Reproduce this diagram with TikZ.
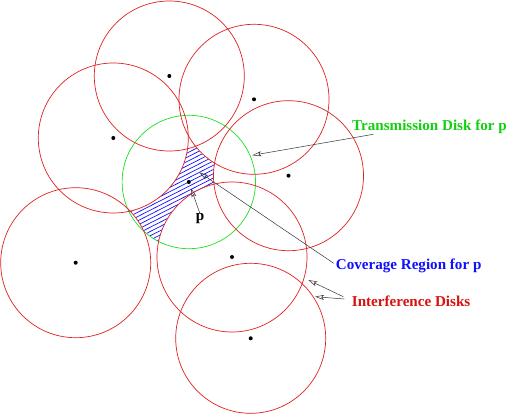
\documentclass[tikz,border=0pt]{standalone}
\usepackage{fontspec}
\setmainfont{Liberation Serif}
\usepackage{tikz}
\usetikzlibrary{arrows.meta,calc}
\definecolor{diskred}{HTML}{E02020}
\definecolor{diskgreen}{HTML}{20E020}
\definecolor{labelred}{HTML}{D81010}
\definecolor{labelgreen}{HTML}{10D010}
\definecolor{labelblue}{HTML}{1010FF}
\tikzset{
  intdisk/.style={draw=diskred,line width=0.7pt},
  txdisk/.style={draw=diskgreen,line width=0.7pt},
  hatchline/.style={draw=labelblue,line width=0.7pt},
  sitedot/.style={fill=black},
  disklabel/.style={font=\bfseries\fontsize{15.1}{17}\selectfont,inner sep=0pt,anchor=west},
  callout/.style={-{Stealth[open,length=9pt,width=5pt,inset=2pt]},draw=black!80,line width=0.5pt}
}

\begin{document}
\begin{tikzpicture}[x=1pt,y=-1pt]
\useasboundingbox (0,0) rectangle (517,414);
% disk centres
\coordinate (p) at (188.8,182);
\coordinate (c1) at (169.3,76);
\coordinate (c2) at (254,99.3);
\coordinate (c3) at (113.3,138);
\coordinate (c4) at (288.5,175.7);
\coordinate (c5) at (75.7,262.7);
\coordinate (c6) at (232,257);
\coordinate (c7) at (250.7,338.3);
% coverage region
\begin{scope}
\clip (p) circle (66.7);
\begin{scope}[shift={(p)},rotate=27]
\foreach \k in {-20,...,20}{\draw[hatchline] (-80,\k*3.8) -- (80,\k*3.8);}
\end{scope}
\foreach \c in {c1,c2,c3,c4,c5,c6,c7}{\fill[white] (\c) circle (75);}
\end{scope}
% disks
\draw[txdisk] (p) circle (66.7);
\foreach \c in {c1,c2,c3,c4,c5,c6,c7}{
  \draw[intdisk] (\c) circle (75);
  \fill[sitedot] (\c) circle (2);
}
\fill[sitedot] (p) circle (2);
% labels
\node[disklabel,anchor=center] (plabel) at (200,219) {p};
\node[disklabel,text=labelgreen] (txlabel) at (352,127) {Transmission Disk for p};
\node[disklabel,text=labelblue] (covlabel) at (335.7,266) {Coverage Region for p};
\node[disklabel,text=labelred] (intlabel) at (351.7,301) {Interference Disks};
% arrows
\coordinate (txtail) at (373.3,134.3);
\coordinate (txtip) at (252.3,155.3);
\coordinate (covtip) at (199.3,172.3);
\coordinate (ptip) at (191,188.3);
\coordinate (inttipa) at (308.3,280);
\coordinate (inttipb) at (315,296.7);
\draw[callout] (txtail) -- (txtip);
\draw[callout] ($(covlabel.west)+(-2,-2.7)$) -- (covtip);
\draw[callout] (plabel.north) -- (ptip);
\draw[callout] ($(intlabel.west)+(-8.4,-4.3)$) -- (inttipa);
\draw[callout] ($(intlabel.west)+(-7.4,-2)$) -- (inttipb);
\end{tikzpicture}
\end{document}
